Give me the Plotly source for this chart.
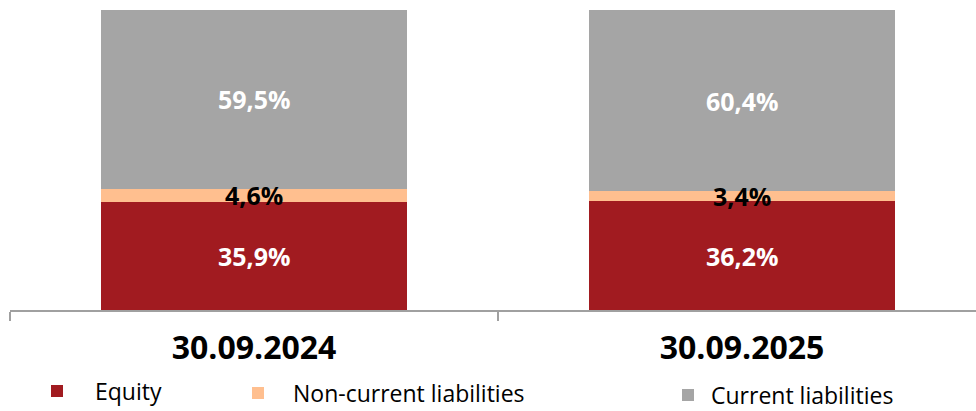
import plotly.graph_objects as go

categories = ["30.09.2024", "30.09.2025"]
equity = [35.9, 36.2]
non_current = [4.6, 3.4]
current = [59.5, 60.4]
series_names = ["Equity", "Non-current liabilities", "Current liabilities"]
label_texts = {
    "Equity": ["35,9%", "36,2%"],
    "Non-current liabilities": ["4,6%", "3,4%"],
    "Current liabilities": ["59,5%", "60,4%"],
}

colors = ["#A11B20", "#FFBF8F", "#A5A5A5"]
label_colors = ["white", "black", "white"]
FONT = "Open Sans"

fig = go.Figure()
series = [equity, non_current, current]
legend_ids = ["legend", "legend2", "legend3"]
for name, vals, col, lg in zip(series_names, series, colors, legend_ids):
    fig.add_trace(go.Bar(
        x=categories, y=vals, name=name, marker=dict(color=col, line=dict(width=0)),
        width=0.627, legend=lg, hoverinfo="skip",
    ))

# value labels at segment centers
base = [0.0] * len(categories)
for name, vals, lc in zip(series_names, series, label_colors):
    for i, c in enumerate(categories):
        fig.add_annotation(
            x=c, y=base[i] + vals[i] / 2, text="<b>%s</b>" % label_texts[name][i],
            showarrow=False, font=dict(family=FONT, size=25, color=lc),
            xref="x", yref="y",
        )
    base = [b + v for b, v in zip(base, vals)]

W, H = 976, 411
fig.update_layout(
    width=W, height=H,
    margin=dict(l=10, r=0, t=10, b=101, autoexpand=False),
    plot_bgcolor="white", paper_bgcolor="white",
    barmode="stack",
    showlegend=True,
    font=dict(family=FONT),
    xaxis=dict(
        type="category", range=[-0.5, -0.5 + 966 / 488],
        showline=True, linecolor="#A0A0A0", linewidth=2,
        ticks="outside", ticklen=9, tickcolor="#A0A0A0", tickwidth=2,
        tickson="boundaries", showgrid=False, tickangle=0, automargin=False,
        tickfont=dict(family=FONT, size=32, color="black", weight="bold"),
        ticklabelstandoff=9,
    ),
    yaxis=dict(range=[0, 100], visible=False, showgrid=False, zeroline=False,
               automargin=False),
    legend=dict(xref="container", yref="container", x=19 / W, y=1 - 391 / H,
                xanchor="left", yanchor="middle", itemwidth=66,
                font=dict(family=FONT, size=23, color="black"), bgcolor="rgba(0,0,0,0)"),
    legend2=dict(xref="container", yref="container", x=223 / W, y=1 - 393 / H,
                 xanchor="left", yanchor="middle", itemwidth=60,
                 font=dict(family=FONT, size=23, color="black"), bgcolor="rgba(0,0,0,0)"),
    legend3=dict(xref="container", yref="container", x=665 / W, y=1 - 395 / H,
                 xanchor="left", yanchor="middle", itemwidth=36,
                 font=dict(family=FONT, size=23, color="black"), bgcolor="rgba(0,0,0,0)"),
)

fig.write_html("out.html")
